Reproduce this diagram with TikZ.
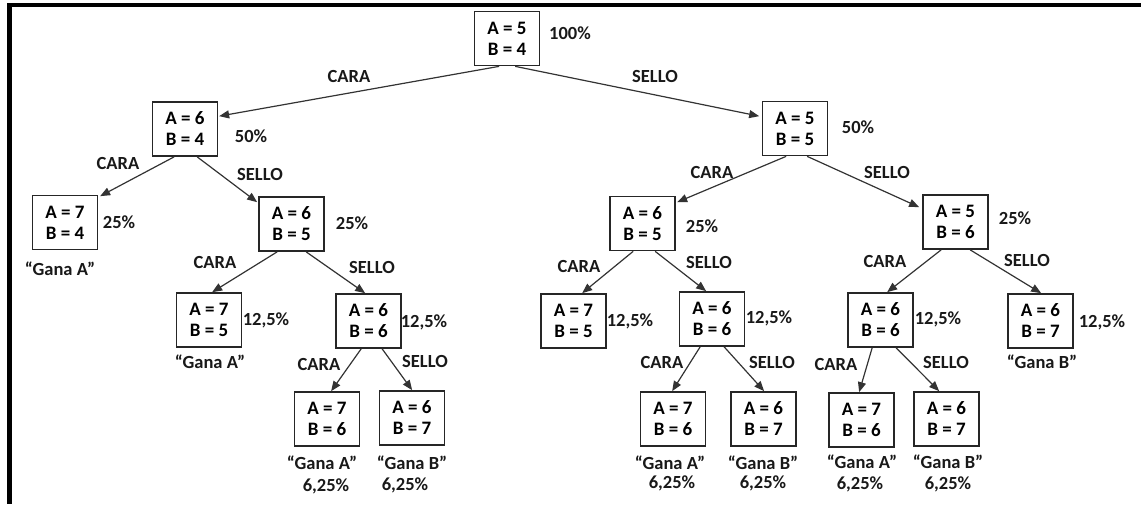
\documentclass[tikz,border=0pt]{standalone}
\usepackage{fontspec}
\setmainfont{Carlito}
\usetikzlibrary{calc,arrows.meta}
\tikzset{
  state/.style={draw=black!85, line width=1.7pt, minimum width=65pt, minimum height=54pt, inner sep=0pt, align=center, font=\bfseries\fontsize{19}{21}\selectfont, fill=white},
  lbl/.style={inner sep=0pt, font=\bfseries\fontsize{18.5}{20}\selectfont, text=black!90},
  arr/.style={draw=black!80, line width=1.2pt, -{Triangle[length=10pt,width=8pt]}}
}
\newcommand{\tedge}[5]{\draw[arr] ($(#1.south west)+(#2,0)$) -- ($(#3.north west)+(#4,#5)$);}
\begin{document}
\begin{tikzpicture}[x=1pt,y=-1pt]
\useasboundingbox (0,0) rectangle (1141,504);
\fill[black] (7,3) rectangle (1141,7);
\fill[black] (7,3) rectangle (12,504);
% boxes
\node[state] (root) at (507,38.5) {A = 5\\B = 4};
\node[state] (l1l) at (185,129) {A = 6\\B = 4};
\node[state] (l1r) at (795,128.5) {A = 5\\B = 5};
\node[state] (a74) at (65,222.5) {A = 7\\B = 4};
\node[state] (b65) at (291.5,224) {A = 6\\B = 5};
\node[state] (a75) at (209,320) {A = 7\\B = 5};
\node[state] (b66) at (368.5,321) {A = 6\\B = 6};
\node[state] (a76L) at (327,419) {A = 7\\B = 6};
\node[state] (b67L) at (412,418) {A = 6\\B = 7};
\node[state] (ra65) at (642.5,223.5) {A = 6\\B = 5};
\node[state] (ra56) at (955.5,222) {A = 5\\B = 6};
\node[state] (ra75) at (573.5,321) {A = 7\\B = 5};
\node[state] (rb66) at (712,319) {A = 6\\B = 6};
\node[state] (ma76) at (673,419) {A = 7\\B = 6};
\node[state] (mb67) at (763.5,419) {A = 6\\B = 7};
\node[state] (rc66) at (880.5,320) {A = 6\\B = 6};
\node[state] (rd67) at (1040.5,321) {A = 6\\B = 7};
\node[state] (ra76) at (861.5,420) {A = 7\\B = 6};
\node[state] (rb67) at (946.5,419) {A = 6\\B = 7};
% edges
\tedge{root}{25.5}{l1l}{67.5}{15}
\tedge{root}{41.5}{l1r}{-2.5}{15.5}
\tedge{l1l}{22.5}{a74}{68.5}{1.5}
\tedge{l1l}{45.5}{b65}{-1}{6}
\tedge{b65}{19}{a75}{36.5}{0}
\tedge{b65}{48}{b66}{30}{0}
\tedge{b66}{26}{a76L}{37.5}{0}
\tedge{b66}{47}{b67L}{33.5}{0}
\tedge{l1r}{24.5}{ra65}{68}{6.5}
\tedge{l1r}{45.5}{ra56}{-3}{13}
\tedge{ra65}{24}{ra75}{42}{0}
\tedge{ra65}{46}{rb66}{27.5}{0}
\tedge{rb66}{21.5}{ma76}{32.5}{0}
\tedge{rb66}{45.5}{mb67}{34}{0}
\tedge{ra56}{19}{rc66}{40}{0}
\tedge{ra56}{48}{rd67}{34}{0}
\tedge{rc66}{25}{ra76}{31}{0}
\tedge{rc66}{49}{rb67}{26}{0}
% probabilities
\node[lbl] (p0) at (570,33) {100\%};
\node[lbl] (p1) at (251,136) {50\%};
\node[lbl] (p2) at (858,127) {50\%};
\node[lbl] (p3) at (119,222) {25\%};
\node[lbl] (p4) at (352,223) {25\%};
\node[lbl] (p5) at (702,226) {25\%};
\node[lbl] (p6) at (1015,218) {25\%};
\node[lbl] (p7) at (266,320) {12,5\%};
\node[lbl] (p8) at (424,322) {12,5\%};
\node[lbl] (p9) at (630,321) {12,5\%};
\node[lbl] (p10) at (769,318) {12,5\%};
\node[lbl] (p11) at (938,319) {12,5\%};
\node[lbl] (p12) at (1102,322) {12,5\%};
\node[lbl] (p13) at (326,486) {6,25\%};
\node[lbl] (p14) at (405,485) {6,25\%};
\node[lbl] (p15) at (672,483) {6,25\%};
\node[lbl] (p16) at (763,483) {6,25\%};
\node[lbl] (p17) at (860,484) {6,25\%};
\node[lbl] (p18) at (948,484) {6,25\%};
% winners
\node[lbl] (g1) at (60,269) {“Gana A”};
\node[lbl] (g2) at (210,362) {“Gana A”};
\node[lbl] (g3) at (322,463) {“Gana A”};
\node[lbl] (g4) at (412,463) {“Gana B”};
\node[lbl] (g5) at (670,463) {“Gana A”};
\node[lbl] (g6) at (763,463) {“Gana B”};
\node[lbl] (g7) at (862,462) {“Gana A”};
\node[lbl] (g8) at (948,462) {“Gana B”};
\node[lbl] (g9) at (1042,362) {“Gana B”};
% edge labels
\node[lbl] (c1) at (349,76) {CARA};
\node[lbl] (s1) at (655,76) {SELLO};
\node[lbl] (c2) at (118,163) {CARA};
\node[lbl] (s2) at (260,174) {SELLO};
\node[lbl] (c3) at (712,172) {CARA};
\node[lbl] (s3) at (887,172) {SELLO};
\node[lbl] (c4) at (215,262) {CARA};
\node[lbl] (s4) at (372,267) {SELLO};
\node[lbl] (c5) at (579,266) {CARA};
\node[lbl] (s5) at (709,262) {SELLO};
\node[lbl] (c6) at (885,261) {CARA};
\node[lbl] (s6) at (1027,260) {SELLO};
\node[lbl] (c7) at (319,364) {CARA};
\node[lbl] (s7) at (425,361) {SELLO};
\node[lbl] (c8) at (662,362) {CARA};
\node[lbl] (s8) at (772,362) {SELLO};
\node[lbl] (c9) at (836,364) {CARA};
\node[lbl] (s9) at (946,362) {SELLO};
\end{tikzpicture}
\end{document}
